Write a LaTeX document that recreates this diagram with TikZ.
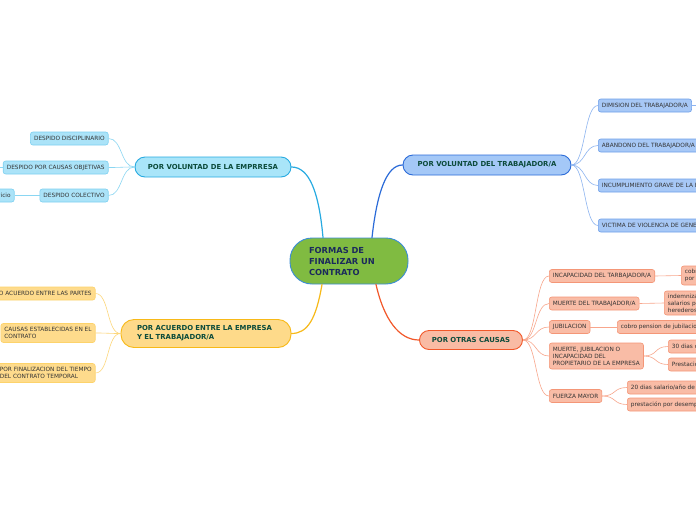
\documentclass[tikz,border=0pt]{standalone}
\usepackage{fontspec}
\setmainfont{DejaVu Sans}
\definecolor{cenf}{HTML}{80BB41}
\definecolor{cend}{HTML}{3B8DD6}
\definecolor{cent}{HTML}{1B2A5C}
\definecolor{brt}{HTML}{0C4B3B}
\definecolor{lft}{HTML}{333333}
\definecolor{bAf}{HTML}{A9E5F9}\definecolor{bAd}{HTML}{27AAE1}\definecolor{lAf}{HTML}{ABE3F8}\definecolor{lAd}{HTML}{7DD0F0}\definecolor{cAl}{HTML}{8AD6F2}
\definecolor{bBf}{HTML}{A4C8F7}\definecolor{bBd}{HTML}{2B6BD8}\definecolor{lBf}{HTML}{A7C8F6}\definecolor{lBd}{HTML}{6E9FEA}\definecolor{cBl}{HTML}{8DB4F0}
\definecolor{bCf}{HTML}{FEDA8A}\definecolor{bCd}{HTML}{F7B918}\definecolor{lCf}{HTML}{FEDB8C}\definecolor{lCd}{HTML}{FDD36B}\definecolor{cCl}{HTML}{FDD77C}
\definecolor{bDf}{HTML}{F9BBA4}\definecolor{bDd}{HTML}{F2582A}\definecolor{lDf}{HTML}{F9BCA6}\definecolor{lDd}{HTML}{F49677}\definecolor{cDl}{HTML}{F8A68C}
\begin{document}
\begin{tikzpicture}[x=1pt,y=-1pt,
  leaf/.style={draw, line width=0.6pt, rounded corners=2.5pt, minimum height=13pt,
    inner xsep=3.6pt, inner ysep=2pt, font=\fontsize{5.8}{6.9}\selectfont, text=lft, align=left},
  lA/.style={leaf, fill=lAf, draw=lAd},
  lB/.style={leaf, fill=lBf, draw=lBd},
  lC/.style={leaf, fill=lCf, draw=lCd},
  lD/.style={leaf, fill=lDf, draw=lDd},
  branch/.style={draw, line width=0.9pt, inner sep=0pt, text=brt, align=left,
    font=\bfseries\fontsize{6.9}{9}\selectfont},
  cA/.style={draw=cAl, line width=0.6pt},
  cB/.style={draw=cBl, line width=0.6pt},
  cC/.style={draw=cCl, line width=0.6pt},
  cD/.style={draw=cDl, line width=0.6pt},
  main/.style={line width=1.2pt, line cap=round}
]
\useasboundingbox (0,0) rectangle (696,520);
\fill[white] (0,0) rectangle (696,520);
\clip (0,0) rectangle (696,520);

% central
\node[draw=cend, fill=cenf, line width=0.9pt, rounded corners=22pt, minimum width=118pt,
  minimum height=46pt, text width=80pt, align=left, inner sep=0pt, text=cent,
  font=\bfseries\fontsize{8.3}{11}\selectfont] (c) at (349,261) {FORMAS DE\\FINALIZAR UN\\CONTRATO};

% branches
\node[branch, fill=bAf, draw=bAd, rounded corners=10pt, minimum width=156pt, minimum height=20pt] (bA) at (213,167) {POR VOLUNTAD DE LA EMPRRESA};
\node[branch, fill=bBf, draw=bBd, rounded corners=10pt, minimum width=168pt, minimum height=20pt] (bB) at (487,165) {POR VOLUNTAD DEL TRABAJADOR/A};
\node[branch, fill=bCf, draw=bCd, rounded corners=13pt, minimum width=170pt, minimum height=28pt, text width=138pt] (bC) at (206,333.5) {POR ACUERDO ENTRE LA EMPRESA\\Y EL TRABAJADOR/A};
\node[branch, fill=bDf, draw=bDd, rounded corners=9.5pt, minimum width=103pt, minimum height=19pt] (bD) at (471,340) {POR OTRAS CAUSAS};

% main connectors
\draw[main, draw=bAd] ([xshift=-26pt]c.north) .. controls +(-4,-45) and +(18,0) .. (bA.east);
\draw[main, draw=bBd] ([xshift=23pt]c.north) .. controls +(5,-45) and +(-16,0) .. (bB.west);
\draw[main, draw=bCd] ([xshift=-27pt]c.south) .. controls +(-6,35) and +(16,0) .. (bC.east);
\draw[main, draw=bDd] ([xshift=27pt]c.south) .. controls +(8,35) and +(-20,0) .. (bD.west);

% leaves A
\node[lA, anchor=east] (a1) at (108.5,138.5) {DESPIDO DISCIPLINARIO};
\node[lA, anchor=east] (a2) at (108.5,167.5) {DESPIDO POR CAUSAS OBJETIVAS};
\node[lA, anchor=east] (a3) at (108.5,195.5) {DESPIDO COLECTIVO};
\node[lA, anchor=east] (a3a) at (14.5,195.5) {indemnización de 20 días por año de servicio};
\coordinate (a2a) at (-6,167.5);
\foreach \n in {a1,a2,a3}{\draw[cA] (bA.west) .. controls +(-14,0) and +(14,0) .. (\n.east);}
\draw[cA] (a3.west) -- (a3a.east);
\draw[cA] (a2.west) -- (a2a);

% leaves B
\node[lB, anchor=west] (p1) at (598,105.5) {DIMISION DEL TRABAJADOR/A};
\node[lB, anchor=west] (p2) at (598,145.5) {ABANDONO DEL TRABAJADOR/A};
\node[lB, anchor=west] (p3) at (598,185.5) {INCUMPLIMIENTO GRAVE DE LA EMPRESA};
\node[lB, anchor=west] (p4) at (598,225.5) {VICTIMA DE VIOLENCIA DE GENERO};
\coordinate (p1a) at (710,105.5);
\foreach \n in {p1,p2,p3,p4}{\draw[cB] (bB.east) .. controls +(14,0) and +(-14,0) .. (\n.west);}
\draw[cB] (p1.east) -- (p1a);

% leaves C
\node[lC, anchor=east] (q1) at (95.5,293.5) {POR MUTUO ACUERDO ENTRE LAS PARTES};
\node[lC, anchor=east, minimum height=19pt] (q2) at (95.5,333) {CAUSAS ESTABLECIDAS EN EL\\CONTRATO};
\node[lC, anchor=east, minimum height=19pt] (q3) at (95.5,373) {POR FINALIZACION DEL TIEMPO\\DEL CONTRATO TEMPORAL};
\foreach \n in {q1,q2,q3}{\draw[cC] (bC.west) .. controls +(-14,0) and +(14,0) .. (\n.east);}

% leaves D
\node[lD, anchor=west] (r1) at (549,276) {INCAPACIDAD DEL TARBAJADOR/A};
\node[lD, anchor=west] (r2) at (549,303.5) {MUERTE DEL TRABAJADOR/A};
\node[lD, anchor=west] (r3) at (549,327) {JUBILACION};
\node[lD, anchor=west, minimum height=26pt] (r4) at (549,356) {MUERTE, JUBILACION O\\INCAPACIDAD DEL\\PROPIETARIO DE LA EMPRESA};
\node[lD, anchor=west] (r5) at (549,396) {FUERZA MAYOR};
\foreach \n in {r1,r2,r3,r4,r5}{\draw[cD] (bD.east) .. controls +(14,0) and +(-14,0) .. (\n.west);}

\node[lD, anchor=west, minimum height=19pt] (r1a) at (681,275.5) {cobro prestación\\por incapacidad};
\node[lD, anchor=west, minimum height=24pt] (r2a) at (664,303) {indemnización de un mes de\\salarios pendientes a los\\herederos};
\node[lD, anchor=west] (r3a) at (617,327) {cobro pension de jubilacion};
\node[lD, anchor=west] (r4a) at (668,346.5) {30 dias de salario};
\node[lD, anchor=west] (r4b) at (668,364.5) {Prestacion por desempleo};
\node[lD, anchor=west] (r5a) at (627,387.5) {20 dias salario/año de servicio};
\node[lD, anchor=west] (r5b) at (627,404.5) {prestación por desempleo};
\draw[cD] (r1.east) -- (r1a.west);
\draw[cD] (r2.east) -- (r2a.west);
\draw[cD] (r3.east) -- (r3a.west);
\foreach \n in {r4a,r4b}{\draw[cD] (r4.east) .. controls +(14,0) and +(-14,0) .. (\n.west);}
\foreach \n in {r5a,r5b}{\draw[cD] (r5.east) .. controls +(14,0) and +(-14,0) .. (\n.west);}
\end{tikzpicture}
\end{document}
